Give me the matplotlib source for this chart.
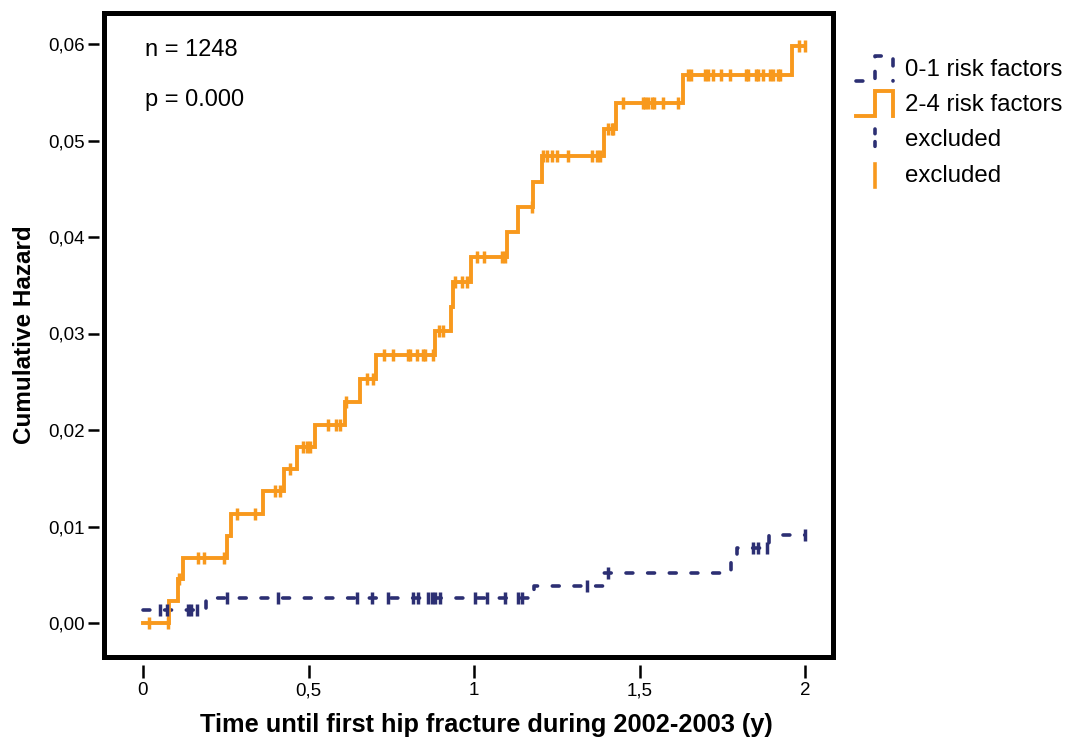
import numpy as np
import matplotlib as mpl
mpl.use('Agg')
import matplotlib.pyplot as plt
from matplotlib.lines import Line2D
from matplotlib.patches import Rectangle
from matplotlib.legend_handler import HandlerBase

plt.rcParams['font.family'] = ['Liberation Sans', 'DejaVu Sans']

# step times (years) and cumulative hazard after each step
low_times = [0.0, 0.190, 1.180, 1.390, 1.775, 1.795, 1.890]
low_hazard = [0.0013, 0.0026, 0.0038, 0.0052, 0.0065, 0.0078, 0.0091]
low_censored = [0.05, 0.072, 0.136, 0.145, 0.163, 0.254, 0.408, 0.647, 0.692,
                0.740, 0.816, 0.831, 0.861, 0.873, 0.882, 0.897, 1.003, 1.039,
                1.094, 1.133, 1.145, 1.341, 1.405, 1.843, 1.858, 1.885, 2.0]

high_times = [0.0, 0.079, 0.106, 0.121, 0.254, 0.266, 0.363, 0.426, 0.465,
              0.520, 0.610, 0.656, 0.704, 0.882, 0.930, 0.937, 0.990, 1.100,
              1.134, 1.178, 1.205, 1.393, 1.428, 1.631, 1.960]
high_hazard = [0.0, 0.0023, 0.0046, 0.0067, 0.0090, 0.0113, 0.0137, 0.0160,
               0.0182, 0.0205, 0.0229, 0.0253, 0.0278, 0.0303, 0.0327, 0.0353,
               0.0379, 0.0405, 0.0431, 0.0457, 0.0484, 0.0512, 0.0539, 0.0568,
               0.0598]
high_censored = [0.018, 0.076, 0.11, 0.166, 0.184, 0.245, 0.284, 0.338, 0.399,
                 0.414, 0.444, 0.483, 0.495, 0.505, 0.559, 0.583, 0.595, 0.613,
                 0.676, 0.694, 0.728, 0.755, 0.80, 0.807, 0.828, 0.846, 0.852,
                 0.876, 0.894, 0.906, 0.943, 0.964, 0.979, 1.009, 1.03, 1.085,
                 1.094, 1.175, 1.208, 1.22, 1.236, 1.251, 1.284, 1.356, 1.372,
                 1.381, 1.405, 1.417, 1.42, 1.45, 1.51, 1.516, 1.526, 1.538,
                 1.544, 1.571, 1.616, 1.647, 1.656, 1.698, 1.707, 1.722, 1.746,
                 1.773, 1.822, 1.828, 1.852, 1.858, 1.873, 1.894, 1.903, 1.918,
                 1.924, 1.982, 2.0]

end_time = 2.0
series_labels = ['0-1 risk factors', '2-4 risk factors', 'excluded', 'excluded']
x_ticks = [0, 0.5, 1, 1.5, 2]
x_ticklabels = ['0', '0,5', '1', '1,5', '2']
y_ticks = [0.0, 0.01, 0.02, 0.03, 0.04, 0.05, 0.06]
y_ticklabels = ['0,00', '0,01', '0,02', '0,03', '0,04', '0,05', '0,06']

NAVY = '#2C2F73'
ORANGE = '#F8991D'
LW = 2.6
DASH = (0, (1.9, 4.1))


def hazard_at(t, times, hazard):
    idx = np.searchsorted(times, t, side='right') - 1
    return np.asarray(hazard)[idx]


class StepHandler(HandlerBase):
    def create_artists(self, legend, orig_handle, xdescent, ydescent,
                       width, height, fontsize, trans):
        x0, y0 = -xdescent, -ydescent
        xs = [x0, x0 + width / 2, x0 + width / 2, x0 + width, x0 + width]
        ys = [y0, y0, y0 + height, y0 + height, y0]
        line = Line2D(xs, ys)
        line.update_from(orig_handle)
        line.set_drawstyle('default')
        line.set_clip_on(False)
        line.set_clip_box(None)
        line.set_transform(trans)
        return [line]


class TickHandler(HandlerBase):
    def create_artists(self, legend, orig_handle, xdescent, ydescent,
                       width, height, fontsize, trans):
        x0, y0 = -xdescent, -ydescent
        xs = [x0 + width / 2, x0 + width / 2]
        ys = [y0 + height - 2, y0 - 1]
        line = Line2D(xs, ys)
        line.update_from(orig_handle)
        line.set_clip_on(False)
        line.set_transform(trans)
        return [line]


W, H = 1071, 738
fig = plt.figure(figsize=(W / 100, H / 100), dpi=100)
left, right, top, bottom = 103.5, 833, 12.5, 656.5
ax = fig.add_axes([left / W, (H - bottom) / H, (right - left) / W, (bottom - top) / H])

# curves
t = np.append(low_times, end_time)
v = np.append(low_hazard, low_hazard[-1])
low_line, = ax.step(t, v, where='post', color=NAVY, lw=LW, linestyle=DASH,
                    dash_capstyle='round')
t = np.append(high_times, end_time)
v = np.append(high_hazard, high_hazard[-1])
high_line, = ax.step(t, v, where='post', color=ORANGE, lw=LW + 0.2,
                     solid_joinstyle='miter')

# censored marks
ax.plot(low_censored, hazard_at(low_censored, low_times, low_hazard),
        linestyle='none', marker='|', ms=8, mew=2.5, color=NAVY)
ax.plot(high_censored, hazard_at(high_censored, high_times, high_hazard),
        linestyle='none', marker='|', ms=8, mew=2.5, color=ORANGE)

ax.set_xlim((left - 143) / 331, (right - 143) / 331)
ax.set_ylim((623 - bottom) / 9650, (623 - top) / 9650)

ax.set_xticks(x_ticks)
ax.set_xticklabels(x_ticklabels)
ax.set_yticks(y_ticks)
ax.set_yticklabels(y_ticklabels)
ax.tick_params(axis='both', direction='out', width=1.8, labelsize=13.5,
               colors='black')
ax.tick_params(axis='y', length=8, pad=2)
ax.tick_params(axis='x', length=9.5, pad=3)
for side in ['top', 'right']:
    ax.spines[side].set_visible(False)
for side in ['left', 'bottom']:
    ax.spines[side].set_color('none')
ax.spines['left'].set_position(('outward', 3.2))
ax.spines['bottom'].set_position(('outward', 6))

# heavy frame around the plotting area
ax.add_patch(Rectangle((0, 0), 1, 1, transform=ax.transAxes, fill=False,
                       lw=3.6, edgecolor='black', clip_on=False, zorder=5,
                       joinstyle='miter'))

ax.set_xlabel('Time until first hip fracture during 2002-2003 (y)',
              fontsize=18.3, fontweight='bold', labelpad=10)
ax.xaxis.label.set_x((486 - left) / (right - left))
ax.set_ylabel('Cumulative Hazard', fontsize=17.5, fontweight='bold', labelpad=9)

ax.text(0.057, 0.942, 'n = 1248', transform=ax.transAxes, fontsize=17,
        va='center', ha='left')
ax.text(0.057, 0.864, 'p = 0.000', transform=ax.transAxes, fontsize=17,
        va='center', ha='left')

# legend
low_cens_proxy = Line2D([], [], color=NAVY, lw=LW, linestyle=(0, (1.3, 2.2)),
                        dash_capstyle='round')
high_cens_proxy = Line2D([], [], color=ORANGE, lw=LW)
fig.legend([low_line, high_line, low_cens_proxy, high_cens_proxy], series_labels,
           handler_map={low_line: StepHandler(), high_line: StepHandler(),
                        low_cens_proxy: TickHandler(), high_cens_proxy: TickHandler()},
           loc='upper left', bbox_to_anchor=(856 / W, 1 - 56 / H),
           frameon=False, fontsize=17.3, borderpad=0, borderaxespad=0,
           handlelength=1.55, handleheight=1.2, handletextpad=0.5,
           labelspacing=0.4)

fig.savefig('out.png', dpi=100)
